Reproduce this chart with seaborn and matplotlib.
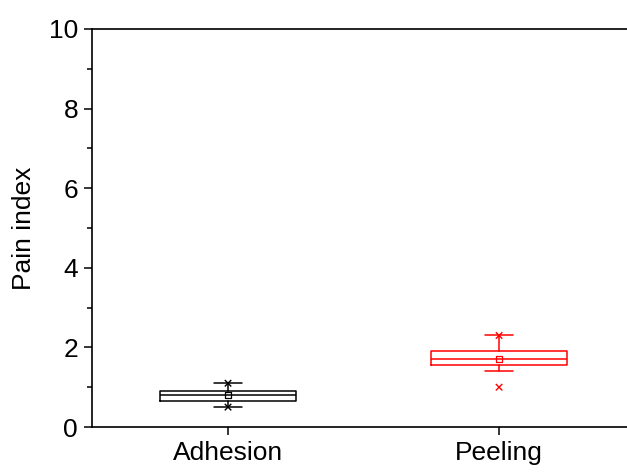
import matplotlib
matplotlib.use("Agg")
import matplotlib.pyplot as plt
import seaborn as sns
import pandas as pd
from matplotlib.ticker import MultipleLocator

categories = ["Adhesion", "Peeling"]
colors = ["#000000", "#ff0000"]
q1 = [0.65, 1.55]
median = [0.80, 1.70]
q3 = [0.90, 1.90]
whislo = [0.50, 1.40]
whishi = [1.10, 2.30]
means = [0.80, 1.70]
mins = [0.50, 1.00]
maxs = [1.10, 2.30]

sns.set_theme(style="ticks")
plt.rcParams['font.family'] = ['Liberation Sans', 'DejaVu Sans']

fig = plt.figure(figsize=(6.27, 4.75), dpi=100)
ax = fig.add_axes([0.1467, 0.101, 0.8533, 0.838])

for i, cat in enumerate(categories):
    stats = [dict(label=cat, q1=q1[i], med=median[i], q3=q3[i],
                  whislo=whislo[i], whishi=whishi[i], fliers=[])]
    c = colors[i]
    ax.bxp(stats, positions=[i], widths=0.5, capwidths=0.3 * 0.5 * 0.7,
           showfliers=False, patch_artist=False, manage_ticks=False,
           boxprops=dict(color=c, linewidth=1.1),
           medianprops=dict(color=c, linewidth=1.1),
           whiskerprops=dict(color=c, linewidth=1.1),
           capprops=dict(color=c, linewidth=1.1))

df_mean = pd.DataFrame({"x": [0, 1], "y": means, "cat": categories})
df_ext = pd.DataFrame({"x": [0, 1, 0, 1], "y": mins + maxs,
                       "cat": categories + categories})
pal = dict(zip(categories, colors))
sns.scatterplot(data=df_mean, x="x", y="y", hue="cat", palette=pal, marker="s",
                s=20, facecolor="none", linewidth=0.9, legend=False, ax=ax)
sns.scatterplot(data=df_ext, x="x", y="y", hue="cat", palette=pal, marker="x",
                s=22, linewidth=1.0, legend=False, ax=ax)
for coll in ax.collections[:1]:
    coll.set_facecolor("none")
    coll.set_edgecolor(colors)

ax.set_xlim(-0.502, 1.472)
ax.set_ylim(0, 10)
ax.set_xticks([0, 1])
ax.set_xticklabels(categories)
ax.yaxis.set_major_locator(MultipleLocator(2))
ax.yaxis.set_minor_locator(MultipleLocator(1))
ax.set_xlabel("")
ax.set_ylabel("Pain index", fontsize=19, labelpad=9, color="black")
ax.tick_params(axis="both", which="major", labelsize=19, length=6, width=1.1,
               direction="out", color="black", labelcolor="black", pad=4)
ax.tick_params(axis="y", which="minor", length=3.5, width=1.1, color="black")
for s in ["left", "bottom", "top"]:
    ax.spines[s].set_visible(True)
    ax.spines[s].set_linewidth(1.2)
    ax.spines[s].set_color("black")
ax.spines["right"].set_visible(False)

fig.savefig("out.png", dpi=100)
